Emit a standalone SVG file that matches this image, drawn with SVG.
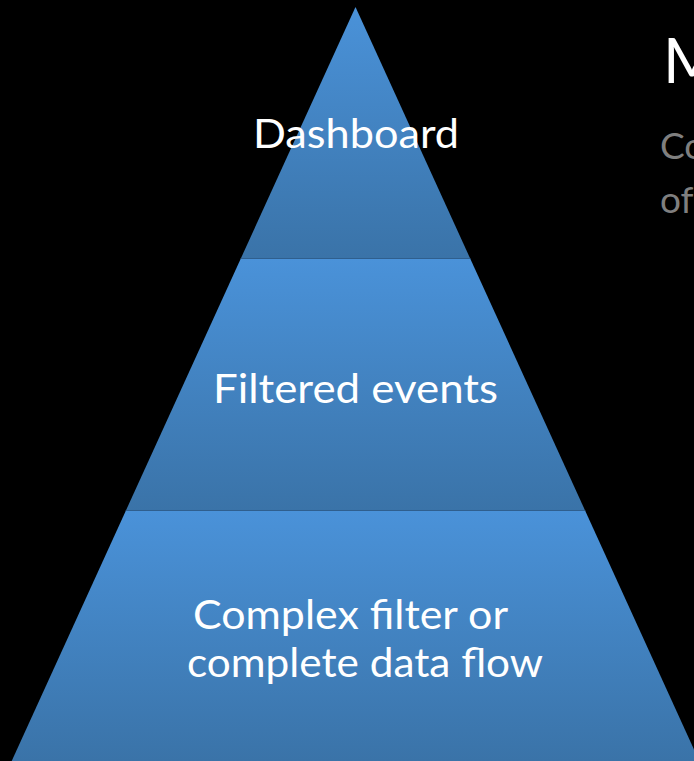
<svg xmlns="http://www.w3.org/2000/svg" width="694" height="761" viewBox="0 0 694 761">
  <defs>
    <linearGradient id="band" x1="0" y1="0" x2="0" y2="1">
      <stop offset="0" stop-color="#4a92d9"/>
      <stop offset="1" stop-color="#3a73a8"/>
    </linearGradient>
  </defs>
  <style>
    .band { fill: url(#band); }
    .sep { stroke: #2f5f8e; stroke-width: 1.2; }
    .lbl { font-family: Lato, "Open Sans", "Liberation Sans", sans-serif; font-size: 40px; fill: #ffffff; }
    .title { font-family: Lato, "Open Sans", "Liberation Sans", sans-serif; font-size: 62px; fill: #ffffff; }
    .sub { font-family: Lato, "Open Sans", "Liberation Sans", sans-serif; font-size: 37px; fill: #7f7f7f; }
  </style>
  <rect x="0" y="0" width="694" height="761" fill="#000000"/>
  <g id="level-top">
    <polygon class="band" points="355.5,7 470.4,259 240.6,259"/>
    <line class="sep" x1="240.6" y1="258.7" x2="470.4" y2="258.7"/>
    <text class="lbl" x="253" y="148" textLength="206" lengthAdjust="spacingAndGlyphs">Dashboard</text>
  </g>
  <g id="level-middle">
    <polygon class="band" points="240.6,259 470.4,259 585.3,511 125.7,511"/>
    <line class="sep" x1="125.7" y1="510.7" x2="585.3" y2="510.7"/>
    <text class="lbl" x="213" y="403" textLength="285" lengthAdjust="spacingAndGlyphs">Filtered events</text>
  </g>
  <g id="level-bottom">
    <polygon class="band" points="125.7,511 585.3,511 699.3,761 11.7,761"/>
    <text class="lbl" x="193" y="629" textLength="315" lengthAdjust="spacingAndGlyphs">Complex filter or</text>
    <text class="lbl" x="187" y="677" textLength="356" lengthAdjust="spacingAndGlyphs">complete data flow</text>
  </g>
  <g id="side-text">
    <text class="title" x="663" y="83">M</text>
    <text class="sub" x="660" y="159">Co</text>
    <text class="sub" x="660" y="213">of</text>
  </g>
  <g id="connectors"/>
</svg>
